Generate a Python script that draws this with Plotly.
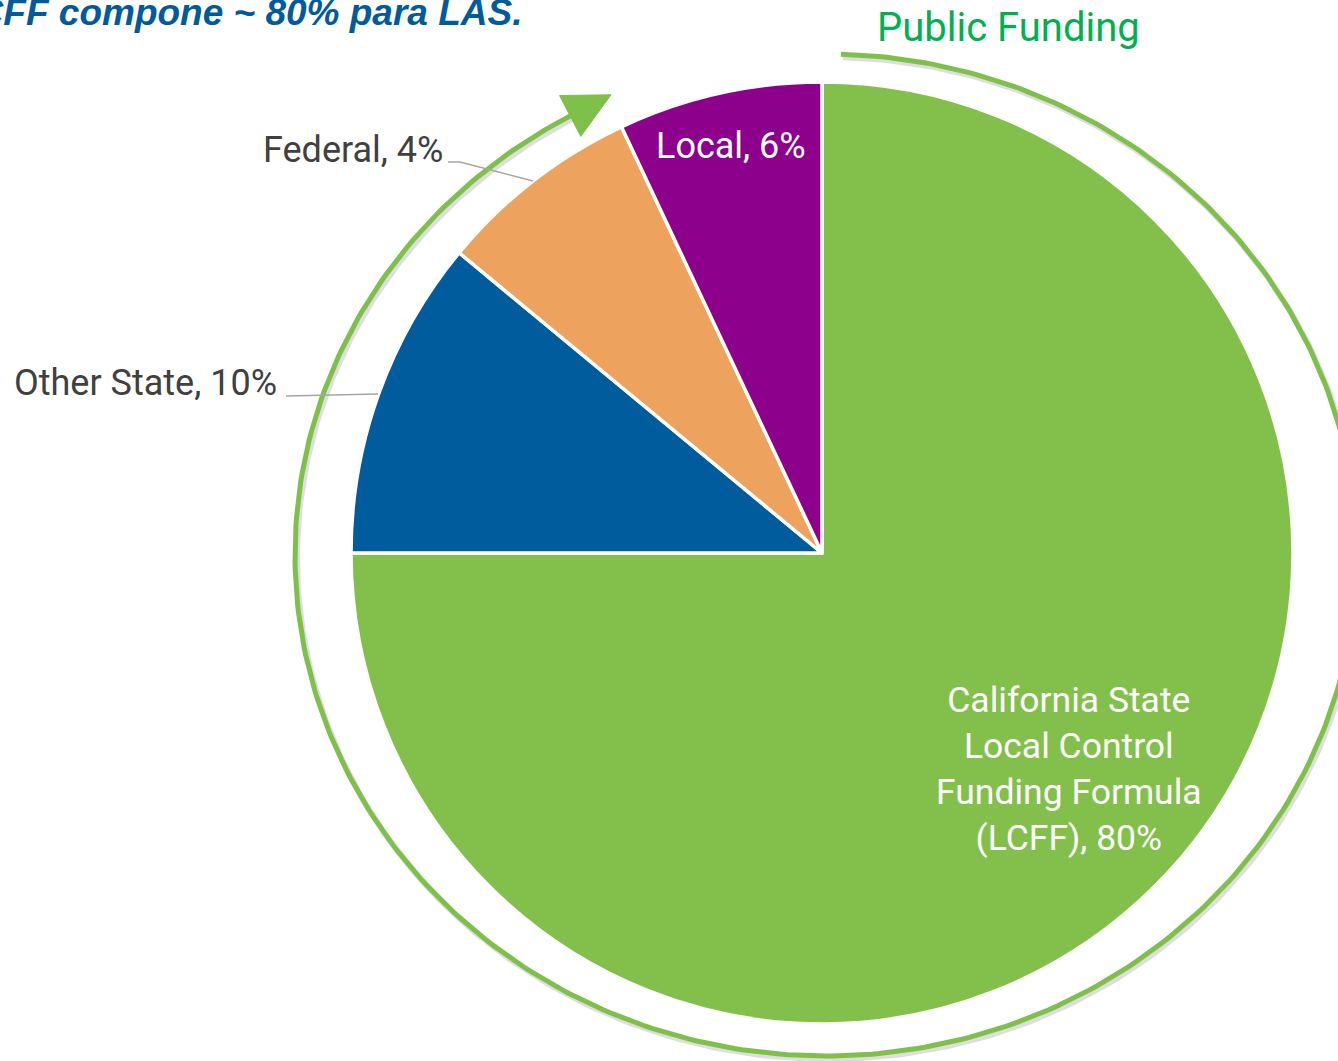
import numpy as np
import plotly.graph_objects as go

# slices, clockwise from 12 o'clock
names = ["California State<br>Local Control<br>Funding Formula<br>(LCFF)", "Other State", "Federal", "Local"]
shares = [75, 11, 7, 7]          # slice sizes as drawn
shown_pct = [80, 10, 4, 6]      # percentages written on the labels
colors = ["#82C04B", "#005C9D", "#EDA35E", "#8C008C"]

title_text = "LCFF compone ~ 80% para LAS."
ring_text = "Public Funding"

W, H = 1338, 1061
PIE_CX, PIE_CY, PIE_R = 822, 553, 471

fig = go.Figure()

# pie, domain built from the wanted pixel circle
fig.add_trace(
    go.Pie(
        labels=[n.replace("<br>", " ") for n in names],
        values=shares,
        sort=False,
        direction="clockwise",
        rotation=0,
        marker=dict(colors=colors, line=dict(color="white", width=3.5)),
        textinfo="none",
        hoverinfo="label+percent",
        showlegend=False,
        domain=dict(
            x=[(PIE_CX - PIE_R) / W, (PIE_CX + PIE_R) / W],
            y=[1 - (PIE_CY + PIE_R) / H, 1 - (PIE_CY - PIE_R) / H],
        ),
    )
)

# green "public funding" ring with arrow (ellipse in pixel space)
cx, cy, a, b = 826, 555, 531, 501
t = np.radians(np.linspace(1.6, 331.2, 400))
rx = cx + a * np.sin(t)
ry = cy - b * np.cos(t)

fig.add_trace(go.Scatter(x=rx + 2, y=ry + 3, mode="lines",
                         line=dict(color="rgba(0,0,0,0.13)", width=6),
                         hoverinfo="skip", showlegend=False))
fig.add_trace(go.Scatter(x=rx, y=ry, mode="lines",
                         line=dict(color="#7FC04B", width=5),
                         hoverinfo="skip", showlegend=False))

# arrowhead at the end of the ring
te = t[-1]
bx, by = rx[-1], ry[-1]
dx, dy = a * np.cos(te), b * np.sin(te)
n = np.hypot(dx, dy)
dx, dy = dx / n, dy / n
L, hw = 46, 23
tri_x = [bx - dy * hw, bx + dx * L, bx + dy * hw, bx - dy * hw]
tri_y = [by + dx * hw, by + dy * L, by - dx * hw, by + dx * hw]
fig.add_trace(go.Scatter(x=tri_x, y=tri_y, mode="lines", fill="toself",
                         fillcolor="#7FC04B", line=dict(color="#7FC04B", width=1),
                         hoverinfo="skip", showlegend=False))

# leader lines for the outside labels
fig.add_shape(type="line", x0=286, y0=396, x1=378, y1=394,
              line=dict(color="#A6A6A6", width=1.5), xref="x", yref="y")
fig.add_shape(type="path", path="M 448 162 L 460 162 L 533 181",
              line=dict(color="#A6A6A6", width=1.5), xref="x", yref="y")

labels_txt = [f"{nm}, {p}%" for nm, p in zip(names, shown_pct)]

fig.add_annotation(x=1069, y=769, text=labels_txt[0], showarrow=False,
                   font=dict(size=35.5, color="white"), xref="x", yref="y")
fig.add_annotation(x=279, y=383, text=labels_txt[1], showarrow=False, xanchor="right",
                   font=dict(size=36, color="#404040"), xref="x", yref="y")
fig.add_annotation(x=445, y=150, text=labels_txt[2], showarrow=False, xanchor="right",
                   font=dict(size=36, color="#404040"), xref="x", yref="y")
fig.add_annotation(x=731, y=146, text=labels_txt[3], showarrow=False,
                   font=dict(size=36, color="white"), xref="x", yref="y")

fig.add_annotation(x=1008, y=27, text=ring_text, showarrow=False,
                   font=dict(size=40, color="#00B050"), xref="x", yref="y")
fig.add_annotation(x=524, y=12, text=f"<b><i>{title_text}</i></b>", showarrow=False,
                   xanchor="right", font=dict(size=37, color="#005A9C",
                                              family="Liberation Sans, Arial"),
                   xref="x", yref="y")

fig.update_layout(
    width=W,
    height=H,
    margin=dict(l=0, r=0, t=0, b=0),
    paper_bgcolor="white",
    plot_bgcolor="white",
    font=dict(family="Roboto, Arial, sans-serif"),
    xaxis=dict(range=[0, W], visible=False, fixedrange=True),
    yaxis=dict(range=[H, 0], visible=False, fixedrange=True),
)

fig.write_html("out.html", config={"displayModeBar": False},
               post_script="document.body.style.margin='0';")
